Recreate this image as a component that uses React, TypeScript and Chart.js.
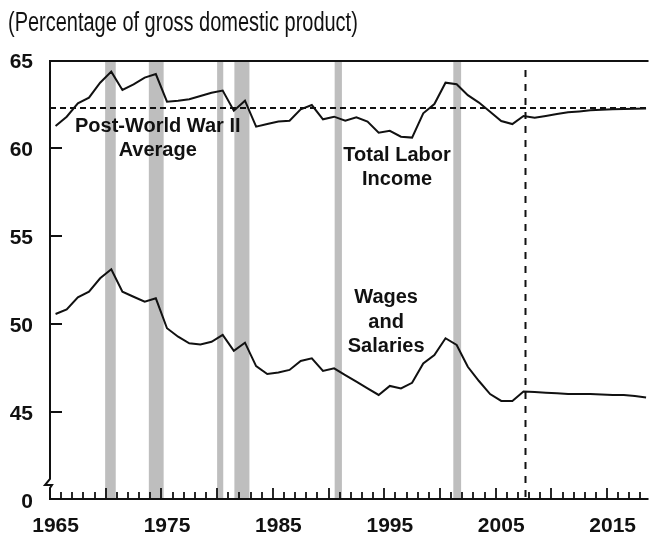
import React, { useEffect, useRef } from 'react';
import { Chart, registerables } from 'chart.js';

Chart.register(...registerables);

const title = '(Percentage of gross domestic product)';

const years = [
  1965, 1966, 1967, 1968, 1969, 1970, 1971, 1972, 1973, 1974,
  1975, 1976, 1977, 1978, 1979, 1980, 1981, 1982, 1983, 1984,
  1985, 1986, 1987, 1988, 1989, 1990, 1991, 1992, 1993, 1994,
  1995, 1996, 1997, 1998, 1999, 2000, 2001, 2002, 2003, 2004,
  2005, 2006, 2007, 2008, 2009, 2010, 2011, 2012, 2013, 2014,
  2015, 2016, 2017, 2018,
];

const totalLaborIncome = [
  61.25, 61.78, 62.54, 62.86, 63.71, 64.34, 63.3, 63.62, 64.0, 64.2,
  62.63, 62.68, 62.77, 62.95, 63.14, 63.26, 62.12, 62.69, 61.21, 61.36,
  61.5, 61.55, 62.2, 62.44, 61.63, 61.78, 61.55, 61.74, 61.5, 60.87,
  60.98, 60.64, 60.59, 61.97, 62.5, 63.71, 63.62, 63.0, 62.58, 62.06,
  61.53, 61.36, 61.82, 61.72, 61.82, 61.93, 62.03, 62.08, 62.14, 62.18,
  62.2, 62.21, 62.23, 62.25,
];

const wagesAndSalaries = [
  50.57, 50.83, 51.52, 51.84, 52.6, 53.11, 51.84, 51.55, 51.27, 51.46,
  49.76, 49.28, 48.9, 48.84, 48.99, 49.38, 48.48, 48.94, 47.61, 47.16,
  47.25, 47.39, 47.9, 48.05, 47.33, 47.48, 47.1, 46.72, 46.34, 45.97,
  46.48, 46.34, 46.66, 47.76, 48.24, 49.19, 48.81, 47.57, 46.76, 46.02,
  45.63, 45.63, 46.16, 46.14, 46.1, 46.06, 46.02, 46.02, 46.02, 46.0,
  45.97, 45.97, 45.91, 45.83,
];

const postWarAverage = 62.25;
const projectionStart = 2007.6;

const recessionStarts = [1969.95, 1973.87, 1980.0, 1981.55, 1990.55, 2001.2];
const recessionEnds = [1970.9, 1975.2, 1980.55, 1982.9, 1991.2, 2001.9];

const xTickLabels = ['1965', '1975', '1985', '1995', '2005', '2015'];
const yTickValues = [40, 45, 50, 55, 60, 65];
const yTickLabels = ['0', '45', '50', '55', '60', '65'];

const annotationLines = [
  ['Post-World War II', 'Average'],
  ['Total Labor', 'Income'],
  ['Wages', 'and', 'Salaries'],
];
const annotationX = [1974.67, 1996.15, 1995.17];
const annotationY = [61.25, 59.6, 51.48];

const FONT = "'Liberation Sans', Arial, sans-serif";
const INK = '#111111';

const decorPlugin = {
  id: 'decor',
  beforeDatasetsDraw(chart: any) {
    const { ctx, chartArea, scales } = chart;
    const xs = scales.x;
    const ys = scales.y;
    const top = chartArea.top;
    const bottom = ys.getPixelForValue(40);
    ctx.save();
    // recession bars
    ctx.fillStyle = '#bebebe';
    for (let i = 0; i < recessionStarts.length; i++) {
      const x0 = xs.getPixelForValue(recessionStarts[i]);
      const x1 = xs.getPixelForValue(recessionEnds[i]);
      ctx.fillRect(x0, top, x1 - x0, bottom - top);
    }
    // post-war average dashed
    ctx.strokeStyle = INK;
    ctx.lineWidth = 2;
    ctx.setLineDash([6, 4]);
    const ay = Math.round(ys.getPixelForValue(postWarAverage));
    ctx.beginPath();
    ctx.moveTo(chartArea.left, ay);
    ctx.lineTo(chartArea.right, ay);
    ctx.stroke();
    // projection start dashed vertical
    ctx.setLineDash([7, 7]);
    const vx = Math.round(xs.getPixelForValue(projectionStart)) + 0.5;
    ctx.beginPath();
    ctx.moveTo(vx, top + 10);
    ctx.lineTo(vx, bottom);
    ctx.stroke();
    ctx.restore();
  },
  afterDatasetsDraw(chart: any) {
    const { ctx, chartArea, scales } = chart;
    const xs = scales.x;
    const ys = scales.y;
    const left = chartArea.left;
    const top = chartArea.top;
    const bottom = ys.getPixelForValue(40) - 1;
    ctx.save();
    ctx.strokeStyle = INK;
    ctx.lineWidth = 2;
    ctx.setLineDash([]);
    // top border
    ctx.beginPath();
    ctx.moveTo(left - 1, top + 1);
    ctx.lineTo(chartArea.right, top + 1);
    ctx.stroke();
    // y axis with break
    ctx.beginPath();
    ctx.moveTo(left, top);
    ctx.lineTo(left, bottom - 20);
    ctx.lineTo(left - 5, bottom - 14);
    ctx.lineTo(left + 2, bottom - 14);
    ctx.lineTo(left, bottom - 11);
    ctx.lineTo(left, bottom + 1);
    ctx.stroke();
    // baseline
    ctx.beginPath();
    ctx.moveTo(left - 1, bottom);
    ctx.lineTo(chartArea.right, bottom);
    ctx.stroke();
    // y inner ticks
    for (const v of yTickValues) {
      if (v === 40 || v === 65) continue;
      const py = Math.round(ys.getPixelForValue(v));
      ctx.beginPath();
      ctx.moveTo(left, py);
      ctx.lineTo(left + 12, py);
      ctx.stroke();
    }
    // x year ticks
    ctx.lineWidth = 1.8;
    for (const yr of years) {
      const px = Math.round(xs.getPixelForValue(yr));
      if (px <= left + 1) continue;
      const len = yr % 5 === 0 ? 11 : 7;
      ctx.beginPath();
      ctx.moveTo(px, bottom);
      ctx.lineTo(px, bottom - len);
      ctx.stroke();
    }
    // annotations
    ctx.fillStyle = INK;
    ctx.font = `bold 20px ${FONT}`;
    ctx.textAlign = 'center';
    ctx.textBaseline = 'middle';
    for (let i = 0; i < annotationLines.length; i++) {
      const cx = xs.getPixelForValue(annotationX[i]);
      const cy = ys.getPixelForValue(annotationY[i]);
      annotationLines[i].forEach((line, j) => {
        ctx.fillText(line, cx, cy + j * 24.5);
      });
    }
    // title (condensed)
    ctx.textAlign = 'left';
    ctx.textBaseline = 'alphabetic';
    ctx.font = `27px ${FONT}`;
    ctx.scale(0.74, 1);
    ctx.fillText(title, 8 / 0.74, 31);
    ctx.restore();
  },
};

export default function App() {
  const ref = useRef<HTMLCanvasElement | null>(null);
  useEffect(() => {
    if (!ref.current) return;
    const mk = (vals: number[]) => years.map((yr, i) => ({ x: yr + 0.5, y: vals[i] }));
    const ds = (label: string, vals: number[]) => ({
      label,
      data: mk(vals),
      borderColor: INK,
      borderWidth: 2,
      pointRadius: 0,
      tension: 0,
      fill: false,
    });
    const chart = new Chart(ref.current, {
      type: 'line',
      data: {
        datasets: [ds('Total Labor Income', totalLaborIncome), ds('Wages and Salaries', wagesAndSalaries)],
      },
      options: {
        animation: false,
        responsive: false,
        maintainAspectRatio: false,
        layout: { padding: { top: 60, left: 0, right: 0, bottom: 0 } },
        plugins: { legend: { display: false }, tooltip: { enabled: false }, title: { display: false } },
        scales: {
          x: {
            type: 'linear',
            min: 1965,
            max: 2018.72,
            grid: { display: false, drawTicks: false },
            border: { display: false },
            afterBuildTicks: (s: any) => {
              s.ticks = xTickLabels.map((l) => ({ value: Number(l) + 0.5 }));
            },
            afterFit: (s: any) => {
              s.height = 35;
            },
            ticks: {
              autoSkip: false,
              maxRotation: 0,
              padding: 14,
              color: INK,
              font: { family: FONT, size: 21, weight: 'bold' },
              callback: (v: any) => {
                const idx = xTickLabels.findIndex((l) => Number(l) + 0.5 === v);
                return idx >= 0 ? xTickLabels[idx] : '';
              },
            },
          },
          y: {
            type: 'linear',
            min: 40,
            max: 65,
            grid: { display: false, drawTicks: false },
            border: { display: false },
            afterBuildTicks: (s: any) => {
              s.ticks = yTickValues.map((v) => ({ value: v }));
            },
            afterFit: (s: any) => {
              s.width = 50;
            },
            ticks: {
              padding: 17,
              labelOffset: 2.5,
              color: INK,
              font: { family: FONT, size: 21, weight: 'bold' },
              callback: (v: any) => {
                const idx = yTickValues.indexOf(v);
                return idx >= 0 ? yTickLabels[idx] : '';
              },
            },
          },
        },
      } as any,
      plugins: [decorPlugin],
    });
    return () => chart.destroy();
  }, []);
  return (
    <div style={{ position: 'fixed', left: 0, top: 0, width: 650, height: 535, background: '#fff' }}>
      <canvas ref={ref} width={650} height={535} style={{ display: 'block', width: 650, height: 535 }} />
    </div>
  );
}
